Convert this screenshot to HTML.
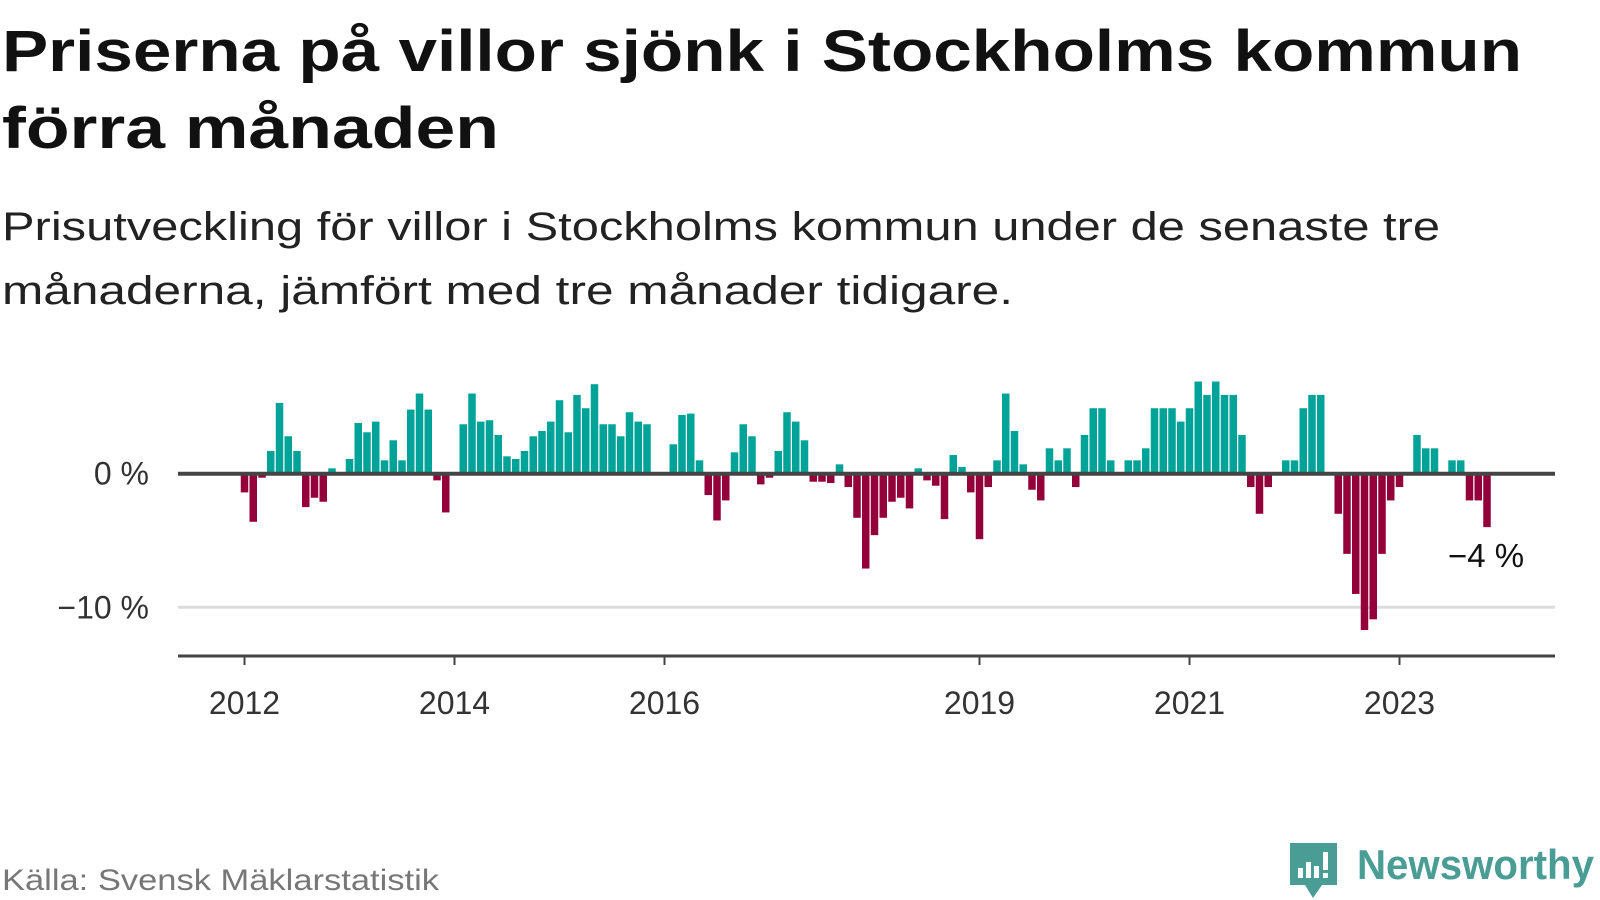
<!DOCTYPE html>
<html><head><meta charset="utf-8"><style>
html,body{margin:0;padding:0;background:#fff;width:1600px;height:900px;overflow:hidden}
svg{display:block}
</style></head><body>
<svg width="1600" height="900" viewBox="0 0 1600 900" font-family="'Liberation Sans', sans-serif">
<text x="2" y="71" font-size="58" font-weight="bold" fill="#111" textLength="1520" lengthAdjust="spacingAndGlyphs">Priserna på villor sjönk i Stockholms kommun</text>
<text x="2" y="148" font-size="58" font-weight="bold" fill="#111" textLength="497" lengthAdjust="spacingAndGlyphs">förra månaden</text>
<text x="2" y="240" font-size="40" fill="#222" textLength="1438" lengthAdjust="spacingAndGlyphs">Prisutveckling för villor i Stockholms kommun under de senaste tre</text>
<text x="2" y="304" font-size="40" fill="#222" textLength="1011" lengthAdjust="spacingAndGlyphs">månaderna, jämfört med tre månader tidigare.</text>
<g id="plot"></g>
<text x="2" y="890" font-size="30" fill="#777" textLength="437" lengthAdjust="spacingAndGlyphs">Källa: Svensk Mäklarstatistik</text>
<g>
<path d="M1290 843 H1337 V885 H1322 L1313 898 L1305 885 H1290 Z" fill="#4a9d95"/>
<rect x="1298" y="868" width="5" height="10" fill="#fff"/>
<rect x="1306" y="862" width="5" height="16" fill="#fff"/>
<rect x="1314" y="866" width="5" height="12" fill="#fff"/>
<rect x="1323" y="852" width="5" height="18" fill="#fff"/>
<rect x="1323" y="873" width="5" height="5" fill="#fff"/>
<text x="1357" y="879" font-size="42" font-weight="bold" fill="#4a9d95" textLength="237" lengthAdjust="spacingAndGlyphs">Newsworthy</text>
</g>
</svg>
<script>
const values = [
-1.4,-3.6,-0.3,1.7,5.3,2.8,1.7,-2.5,-1.8,-2.1,0.4,0,
1.1,3.8,3.1,3.9,1.0,2.5,1.0,4.8,6.0,4.8,-0.5,-2.9,
0,3.7,6.0,3.9,4.0,2.9,1.3,1.1,1.7,2.8,3.2,3.9,
5.5,3.1,5.9,4.9,6.7,3.7,3.7,2.8,4.6,3.9,3.7,0,
0,2.2,4.4,4.5,1.0,-1.6,-3.5,-2.0,1.6,3.7,2.8,-0.8,
-0.3,1.7,4.6,3.9,2.5,-0.6,-0.6,-0.7,0.7,-1.0,-3.3,-7.1,
-4.6,-3.3,-2.1,-1.8,-2.6,0.4,-0.5,-0.9,-3.4,1.4,0.5,-1.4,
-4.9,-1.0,1.0,6.0,3.2,0.7,-1.2,-2.0,1.9,1.0,1.9,-1.0,
2.9,4.9,4.9,1.0,0,1.0,1.0,1.9,4.9,4.9,4.9,3.9,
4.9,6.9,5.9,6.9,5.9,5.9,2.9,-1.0,-3.0,-1.0,0,1.0,
1.0,4.9,5.9,5.9,0,-3.0,-6.0,-9.0,-11.7,-10.9,-6.0,-2.0,
-1.0,0,2.9,1.9,1.9,0,1.0,1.0,-2.0,-2.0,-4.0];
const xTickLabels = ['2012','2014','2016','2019','2021','2023'];
const xTickMonths = [0,24,48,84,108,132];
const yTickValues = [0,-10];
const yTickLabels = ['0 %','\u221210 %'];
const lastLabel = '\u22124 %';

const NS='http://www.w3.org/2000/svg';
const g=document.getElementById('plot');
const X0=178, X1=1555, BASE=656;
function xs(i){return 244.5+8.75*i;}
function ys(v){return 473.7-v*13.36;}
function mk(tag,attrs){const e=document.createElementNS(NS,tag);for(const k in attrs)e.setAttribute(k,attrs[k]);g.appendChild(e);return e;}

yTickValues.forEach((v,k)=>{
  if(v!==0){const l=mk('line',{x1:X0,x2:X1,y1:ys(v),y2:ys(v),stroke:'#ddd','stroke-width':3});
  
  }
  const t=mk('text',{x:149,y:ys(v)+11,'font-size':32,fill:'#333','text-anchor':'end'});
  t.textContent=yTickLabels[k];
  
  
});
values.forEach((v,i)=>{
  if(v===0)return;
  const y0=ys(0), y1=ys(v);
  const r=mk('rect',{x:xs(i)-3.75,y:Math.min(y0,y1),width:7.5,height:Math.abs(y1-y0),fill:v>0?'#00a398':'#94003a'});
  
  
});
const z=mk('line',{x1:X0,x2:X1,y1:ys(0),y2:ys(0),stroke:'#444','stroke-width':4});


const ax=mk('line',{x1:X0,x2:X1,y1:BASE,y2:BASE,stroke:'#444','stroke-width':3});


xTickMonths.forEach((m,k)=>{
  const tk=mk('line',{x1:xs(m),x2:xs(m),y1:BASE,y2:BASE+9,stroke:'#444','stroke-width':2});
  
  
  const t=mk('text',{x:xs(m),y:714,'font-size':32,fill:'#333','text-anchor':'middle'});
  t.textContent=xTickLabels[k];
  
  
});
const li=values.length-1;
const an=mk('text',{x:xs(li)-39,y:ys(values[li])+40,'font-size':33,fill:'#111'});
an.textContent=lastLabel;


</script>
</body></html>
